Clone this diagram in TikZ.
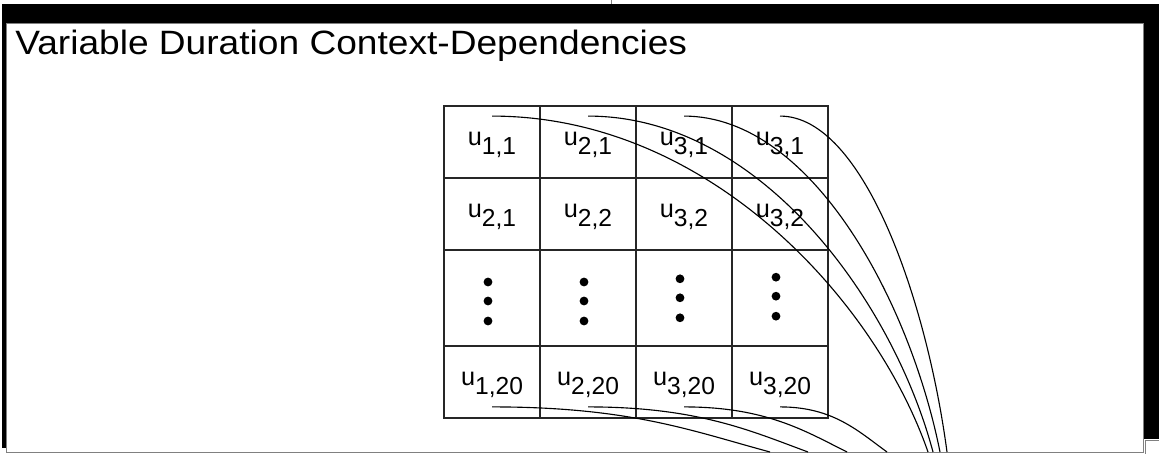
\documentclass[tikz,border=0pt]{standalone}
\usepackage{fontspec}
\setmainfont{Liberation Sans}
\newfontfamily\titlefont[FakeStretch=1.10]{Liberation Sans}
\newcommand{\ulab}[1]{\rule{0pt}{0.48cm}u\raisebox{-0.21cm}{\fontsize{17.5}{17.5}\selectfont #1}}

\begin{document}
\begin{tikzpicture}[cell/.style={draw=black!85, line width=1.3pt, minimum width=2.4cm, minimum height=1.8cm, inner sep=0pt, font=\fontsize{18}{18}\selectfont},
  link/.style={line width=0.8pt}]
  \useasboundingbox (0,0) rectangle (28.975,11.35);
  \clip (0,0) rectangle (28.975,11.35);
  \draw[gray, line width=0.5pt] (15.275,11.35) -- (15.275,11.25);
  \fill (0.05,0.15) rectangle (0.15,11.25);
  \fill (0.05,0.375) rectangle (28.975,11.25);
  \draw[gray, fill=white, line width=0.6pt] (28.625,-0.2) rectangle (29.2,0.35);
  \draw[gray, fill=white, line width=0.6pt] (0.15,0.05) rectangle (28.575,10.775);
  \node[anchor=base west, inner sep=0pt, font=\titlefont\fontsize{24}{28}\selectfont] (title) at (0.375,9.975) {Variable Duration Context-Dependencies};

  \node[cell] (u11) at (12.3,7.8) {\ulab{1,1}};
  \node[cell] (u21) at (14.7,7.8) {\ulab{2,1}};
  \node[cell] (u31) at (17.1,7.8) {\ulab{3,1}};
  \node[cell] (u41) at (19.5,7.8) {\ulab{3,1}};
  \node[cell] (u12) at (12.3,6.0) {\ulab{2,1}};
  \node[cell] (u22) at (14.7,6.0) {\ulab{2,2}};
  \node[cell] (u32) at (17.1,6.0) {\ulab{3,2}};
  \node[cell] (u42) at (19.5,6.0) {\ulab{3,2}};
  \node[cell, minimum height=2.4cm] (u13) at (12.3,3.9) {};
  \node[cell, minimum height=2.4cm] (u23) at (14.7,3.9) {};
  \node[cell, minimum height=2.4cm] (u33) at (17.1,3.9) {};
  \node[cell, minimum height=2.4cm] (u43) at (19.5,3.9) {};
  \node[cell] (u14) at (12.3,1.8) {\ulab{1,20}};
  \node[cell] (u24) at (14.7,1.8) {\ulab{2,20}};
  \node[cell] (u34) at (17.1,1.8) {\ulab{3,20}};
  \node[cell] (u44) at (19.5,1.8) {\ulab{3,20}};

  % vertical dots
  \foreach \c/\lift in {1/0, 2/0, 3/0.08, 4/0.12}
    \foreach \dy in {0.4, -0.075, -0.575}
      \fill ([xshift=-0.1cm, yshift={(\dy+\lift)*1cm}]u\c3.center) circle (0.11);

  % links from the first row
  \foreach \c/\ex/\h/\e in {1/23.2/5.45/1.3, 2/23.325/4.325/1.0, 3/23.5/3.2/0.75, 4/23.675/2.1/0.5} {
    \coordinate (t\c) at (\ex,0.05);
    \draw[link] ([yshift=-0.275cm]u\c1.north) .. controls +(\h,0) and +(-\e,3.75) .. (t\c);
  }
  % links from the last row
  \foreach \c/\ex/\h/\e in {1/19.25/3.475/1.95, 2/20.2/2.75/1.425, 3/21.175/2.05/1.05, 4/22.175/1.325/0.725} {
    \coordinate (b\c) at (\ex,0.05);
    \draw[link] ([yshift=0.3cm]u\c4.south) .. controls +(\h,0) and +(-\e,0.525) .. (b\c);
  }
\end{tikzpicture}
\end{document}
